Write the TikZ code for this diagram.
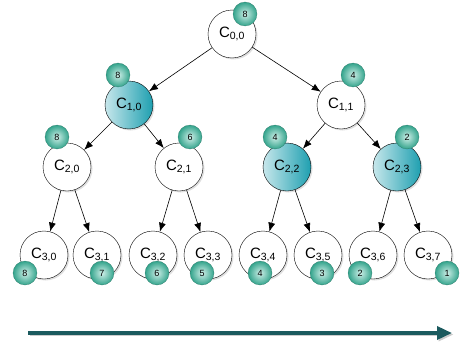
\documentclass[tikz,border=0pt]{standalone}
\usepackage{fontspec}
\setmainfont{Liberation Sans}
\usetikzlibrary{shadows,arrows.meta}

\definecolor{cellteal}{HTML}{1E9FB0}
\definecolor{badgegreen}{HTML}{3CC0A4}
\definecolor{timeline}{HTML}{1B5A5E}

\tikzset{
  cell/.style={circle, draw, thin, minimum size=48pt, inner sep=0pt, fill=white,
    drop shadow={opacity=0.25, shadow xshift=1.5pt, shadow yshift=-1.5pt},
    font=\fontsize{15}{15}\selectfont},
  busy/.style={left color=cellteal!25, right color=cellteal},
  badge/.style={circle, minimum size=24pt, inner sep=0pt, draw=badgegreen!60!black, very thin,
    inner color=badgegreen!25, outer color=badgegreen!85!black,
    font=\fontsize{9}{9}\selectfont},
  link/.style={-{Latex[length=9pt,width=7pt]}, semithick}
}

\begin{document}
\begin{tikzpicture}[x=1pt, y=-1pt]
		\useasboundingbox (0,0) rectangle (460,345);
		
		% Draw the cells
		\node[cell] (c00) at (232,34) {C\textsubscript{0,0}};
		\node[cell, busy] (c10) at (129,105) {C\textsubscript{1,0}};
		\node[cell] (c11) at (341,105) {C\textsubscript{1,1}};
		\node[cell] (c20) at (67,167) {C\textsubscript{2,0}};
		\node[cell] (c21) at (179,167) {C\textsubscript{2,1}};
		\node[cell, busy] (c22) at (287,167) {C\textsubscript{2,2}};
		\node[cell, busy] (c23) at (397,167) {C\textsubscript{2,3}};
		\node[cell] (c30) at (44,255) {C\textsubscript{3,0}};
		\node[cell] (c31) at (97,255) {C\textsubscript{3,1}};
		\node[cell] (c32) at (153,255) {C\textsubscript{3,2}};
		\node[cell] (c33) at (208,255) {C\textsubscript{3,3}};
		\node[cell] (c34) at (263,255) {C\textsubscript{3,4}};
		\node[cell] (c35) at (318,255) {C\textsubscript{3,5}};
		\node[cell] (c36) at (373,255) {C\textsubscript{3,6}};
		\node[cell] (c37) at (428,255) {C\textsubscript{3,7}};
		
		% Draw the links
		\draw[link] (c00) -- (c10);
		\draw[link] (c00) -- (c11);
		\draw[link] (c10) -- (c20);
		\draw[link] (c10) -- (c21);
		\draw[link] (c11) -- (c22);
		\draw[link] (c11) -- (c23);
		\draw[link] (c20) -- (c30);
		\draw[link] (c20) -- (c31);
		\draw[link] (c21) -- (c32);
		\draw[link] (c21) -- (c33);
		\draw[link] (c22) -- (c34);
		\draw[link] (c22) -- (c35);
		\draw[link] (c23) -- (c36);
		\draw[link] (c23) -- (c37);
		
		% Place the badges
		\node[badge] (b00) at (245,14) {8};
		\node[badge] (b10) at (118,75) {8};
		\node[badge] (b11) at (353,75) {4};
		\node[badge] (b20) at (57,137) {8};
		\node[badge] (b21) at (190,137) {6};
		\node[badge] (b22) at (275,137) {4};
		\node[badge] (b23) at (407,137) {2};
		\node[badge] (b30) at (25,273) {8};
		\node[badge] (b31) at (102,273) {7};
		\node[badge] (b32) at (157,273) {6};
		\node[badge] (b33) at (202,273) {5};
		\node[badge] (b34) at (260,273) {4};
		\node[badge] (b35) at (322,273) {3};
		\node[badge] (b36) at (360,273) {2};
		\node[badge] (b37) at (447,273) {1};
		
		% Time line
		\coordinate (tstart) at (28,333);
		\coordinate (tend) at (452,333);
		\draw[line width=3.5pt, black!20, -{Triangle[length=15pt,width=13pt]}, transform canvas={xshift=1.5pt, yshift=-1.5pt}] (tstart) -- (tend);
		\draw[line width=3.5pt, timeline, -{Triangle[length=15pt,width=13pt]}] (tstart) -- (tend);
		
	\end{tikzpicture}
\end{document}
